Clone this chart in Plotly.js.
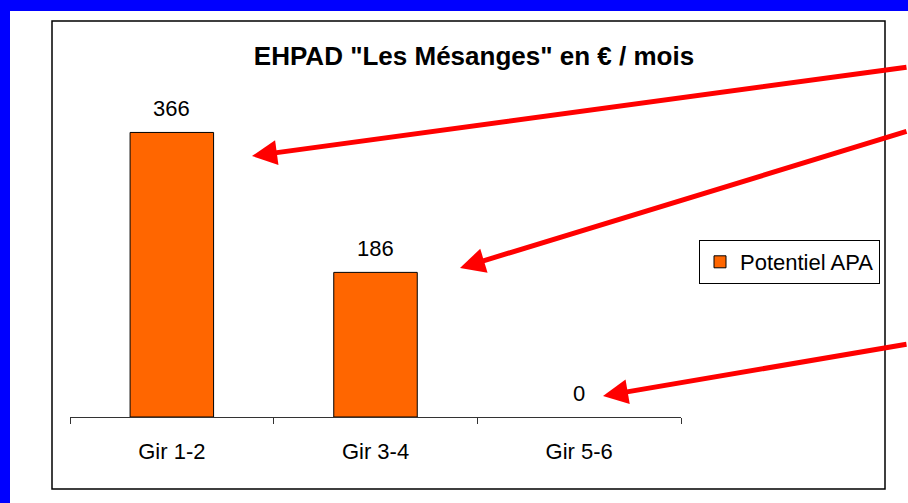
<!DOCTYPE html>
<html>
<head>
<meta charset="utf-8">
<script src="https://cdn.plot.ly/plotly-3.0.1.min.js"></script>
<style>html,body{margin:0;padding:0;background:#fff;}#chart{width:908px;height:503px;}</style>
</head>
<body>
<div id="chart"></div>
<script>
// ---- data ----
const categories = ["Gir 1-2", "Gir 3-4", "Gir 5-6"];
const potentielAPA = [366, 186, 0];
const seriesName = "Potentiel APA";
const chartTitle = 'EHPAD "Les Mésanges" en € / mois';

// ---- layout geometry (pixels) ----
const W = 908, H = 503;
const plotL = 70, plotR = 681, plotT = 106, plotB = 417;
const pw = plotR - plotL, ph = plotB - plotT;
const px = v => (v - plotL) / pw;       // pixel x -> paper x
const py = v => (plotB - v) / ph;       // pixel y -> paper y

const FONT = '"Liberation Sans", Arial, sans-serif';

const trace = {
  type: 'bar',
  x: categories,
  y: potentielAPA,
  name: seriesName,
  width: 0.41,
  marker: {color: '#FF6600', line: {color: '#000000', width: potentielAPA.map(v => v > 0 ? 1 : 0)}},
  hoverinfo: 'none',
  showlegend: true
};

// value labels above bars, from data
const valueLabels = categories.map((c, i) => ({
  xref: 'x', yref: 'y', x: c, y: potentielAPA[i],
  text: String(potentielAPA[i]), showarrow: false,
  yanchor: 'bottom', yshift: 9,
  font: {family: FONT, size: 22, color: '#000'}
}));

// red arrows (decoration): tip pixel -> tail pixel
const arrowDefs = [
  {tip: [252, 156], tail: [910, 67]},
  {tip: [460, 268], tail: [910, 131]},
  {tip: [603, 396], tail: [910, 344]}
];
const arrows = arrowDefs.map(a => ({
  xref: 'paper', yref: 'paper', x: px(a.tip[0]), y: py(a.tip[1]),
  ax: a.tail[0] - a.tip[0], ay: a.tail[1] - a.tip[1],
  text: '', showarrow: true, arrowhead: 2, arrowsize: 1, arrowwidth: 5,
  arrowcolor: '#FF0000', standoff: 0, startstandoff: 0
}));

const shapes = [
  // blue frame strips (top and left)
  {type: 'rect', xref: 'paper', yref: 'paper', x0: px(-5), x1: px(W + 5), y0: py(11), y1: py(-5),
   fillcolor: '#0000FF', line: {width: 0}, layer: 'below'},
  {type: 'rect', xref: 'paper', yref: 'paper', x0: px(-5), x1: px(10), y0: py(H + 5), y1: py(-5),
   fillcolor: '#0000FF', line: {width: 0}, layer: 'below'},
  // chart area border
  {type: 'rect', xref: 'paper', yref: 'paper', x0: px(52), x1: px(885), y0: py(489), y1: py(21),
   fillcolor: 'rgba(0,0,0,0)', line: {color: '#000000', width: 1.5}, layer: 'below'}
];

const layout = {
  width: W, height: H,
  margin: {l: plotL, r: W - plotR, t: plotT, b: H - plotB, pad: 0},
  paper_bgcolor: '#FFFFFF',
  plot_bgcolor: 'rgba(0,0,0,0)',
  font: {family: FONT, size: 22, color: '#000'},
  title: {
    text: '<b>' + chartTitle + '</b>',
    xref: 'container', yref: 'container', x: 474 / W, y: 1 - 56 / H,
    xanchor: 'center', yanchor: 'middle',
    font: {family: FONT, size: 26, color: '#000'}
  },
  xaxis: {
    type: 'category', range: [-0.5, 2.5],
    showline: true, linecolor: '#333333', linewidth: 1,
    ticks: 'outside', tickson: 'boundaries', ticklen: 6, tickcolor: '#333333', tickwidth: 1,
    ticklabelstandoff: 15,
    showgrid: false, zeroline: false, fixedrange: true,
    tickfont: {family: FONT, size: 22, color: '#000'}
  },
  yaxis: {
    range: [0, 400], visible: false, showgrid: false, zeroline: false, fixedrange: true
  },
  showlegend: true,
  legend: {
    x: px(699), y: py(240), xanchor: 'left', yanchor: 'top',
    bordercolor: '#000000', borderwidth: 1, bgcolor: '#FFFFFF',
    font: {family: FONT, size: 22, color: '#000'},
    itemclick: false, itemdoubleclick: false
  },
  bargap: 0.59,
  shapes: shapes,
  annotations: valueLabels.concat(arrows)
};

Plotly.newPlot('chart', [trace], layout, {displayModeBar: false, staticPlot: true});
</script>
</body>
</html>
